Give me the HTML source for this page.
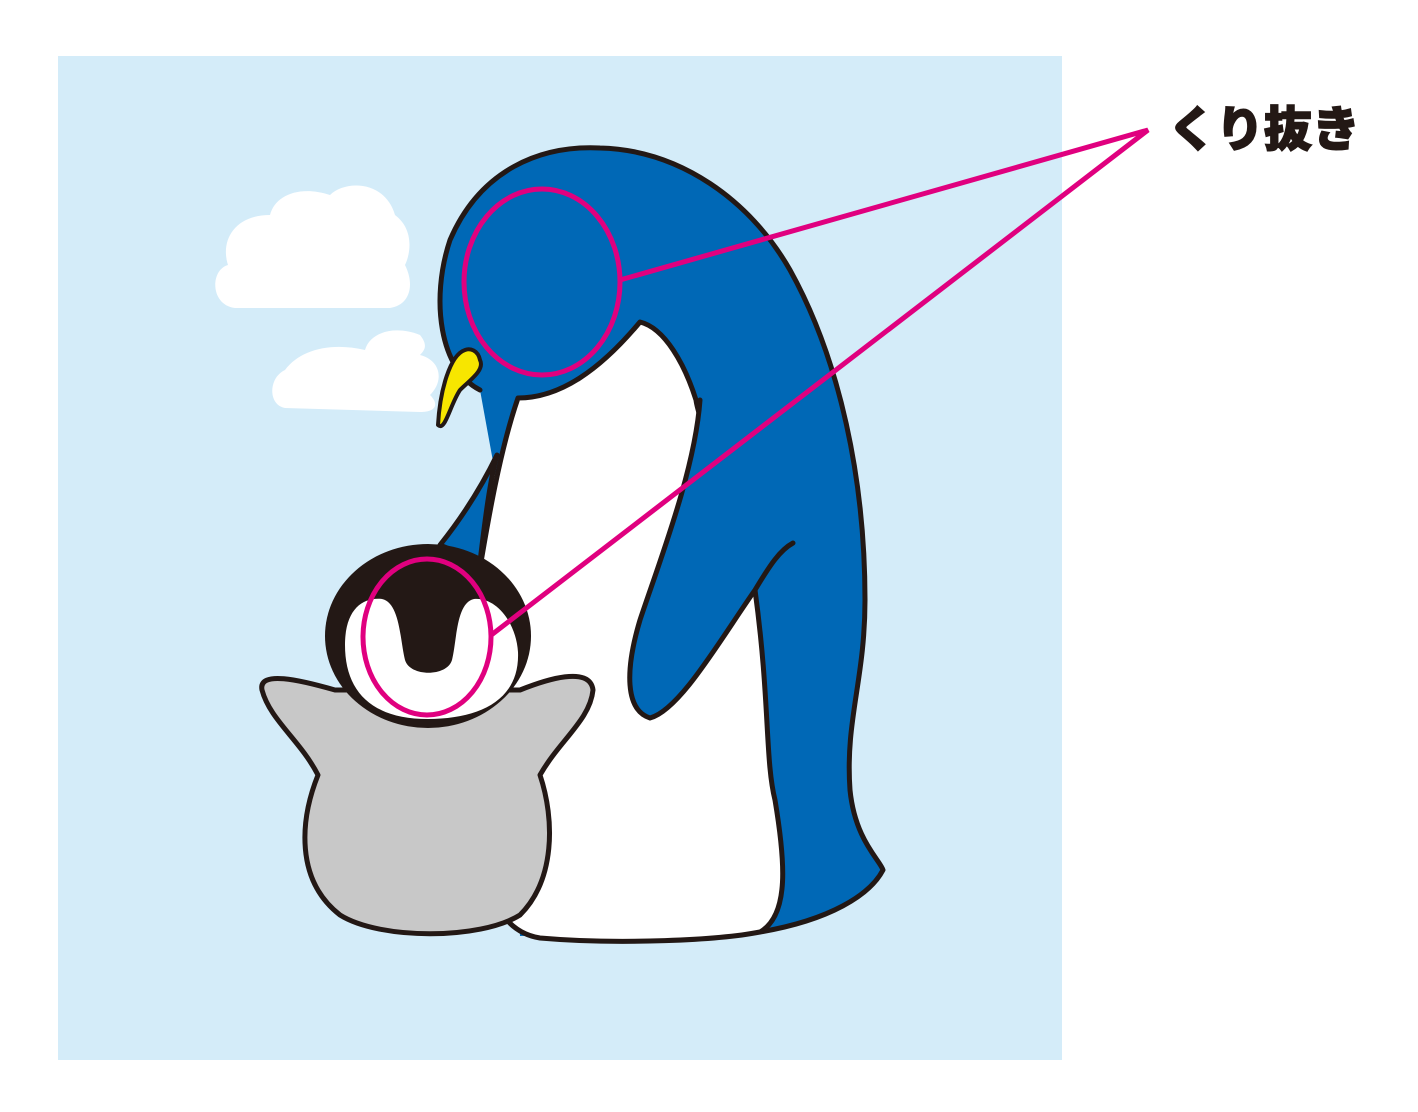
<!DOCTYPE html>
<html><head><meta charset="utf-8"><style>
html,body{margin:0;padding:0;background:#fff;width:1418px;height:1112px;overflow:hidden}
</style></head><body>
<svg width="1418" height="1112" viewBox="0 0 1418 1112" xmlns="http://www.w3.org/2000/svg">
<rect x="58" y="56" width="1004" height="1004" fill="#d4ecf9"/>
<path d="M228,265 C220,240 235,215 270,215 C275,195 300,185 330,195 C345,180 385,180 395,215 C415,230 410,255 405,265 C415,285 410,305 390,308 L235,308 C210,305 210,270 228,265 Z" fill="#fff"/>
<path d="M285,370 C300,350 330,342 365,350 C370,332 395,325 420,335 C428,345 425,350 420,355 C440,360 445,380 430,395 C440,405 435,412 420,412 L285,408 C268,405 268,378 285,370 Z" fill="#fff"/>
<g stroke="#231815" stroke-width="5" stroke-linejoin="round" stroke-linecap="round">
<path d="M480,390 C440,370 430,300 450,240 C480,170 540,145 600,148 C680,150 750,200 790,270 C840,360 865,480 865,600 C865,680 845,720 850,790 C855,840 880,860 883,870 C870,895 830,920 760,932 L520,936 L500,500 Z" fill="#0068b6" stroke="none"/>
<path d="M480,390 C440,370 430,300 450,240 C480,170 540,145 600,148 C680,150 750,200 790,270 C840,360 865,480 865,600 C865,680 845,720 850,790 C855,840 880,860 883,870 C870,895 830,920 760,932" fill="none"/>
<path d="M518,398 C500,450 488,520 478,580 L480,800 C480,870 490,930 540,938 C620,945 720,940 760,932 C790,915 785,860 775,800 C765,760 770,700 755,590 C740,500 700,430 696,400 C685,365 665,328 640,322 C600,370 560,398 518,398 Z" fill="#fff"/>
<path d="M497,455 C480,490 460,520 440,545 L480,562 C485,520 490,480 497,455 Z" fill="#0068b6"/>
<path d="M700,400 C695,470 660,560 640,620 C625,670 625,710 650,718 C680,710 720,640 755,590 C770,565 780,550 793,543 L800,450 Z" fill="#0068b6" stroke="none"/>
<path d="M700,400 C695,470 660,560 640,620 C625,670 625,710 650,718 C680,710 720,640 755,590 C770,565 780,550 793,543" fill="none"/>
<path d="M465,350 C450,355 440,390 438,425 C445,432 450,405 460,390 C470,380 485,370 480,360 C478,350 470,348 465,350 Z" fill="#f7e600" stroke-width="4"/>
<path d="M318,775 C300,740 270,720 262,690 C258,670 300,680 335,690 L520,690 C545,680 590,665 593,690 C590,720 560,740 540,775 C555,820 555,880 520,915 C480,940 380,940 340,915 C295,880 300,820 318,775 Z" fill="#c8c8c8"/>
<ellipse cx="428" cy="636" rx="103" ry="92" fill="#231815" stroke="none"/>
<path d="M345,645 C345,610 362,597 382,599 C400,603 400,640 405,660 C410,677 447,677 452,660 C457,640 456,603 474,599 C496,597 516,622 518,652 C520,700 480,719 428,719 C370,719 345,690 345,645 Z" fill="#fff" stroke="none"/>
</g>
<g stroke="#e0007f" stroke-width="5" fill="none">
<ellipse cx="542" cy="282" rx="78" ry="93"/>
<ellipse cx="427" cy="637" rx="64" ry="78"/>
<polyline points="620,280 1148,130 490,636"/>
</g>
<text x="1168" y="146" font-family="'Liberation Sans','Noto Sans CJK JP',sans-serif" font-weight="900" font-size="48" fill="#231815" stroke="#231815" stroke-width="1.5">くり抜き</text>
</svg>
</body></html>
